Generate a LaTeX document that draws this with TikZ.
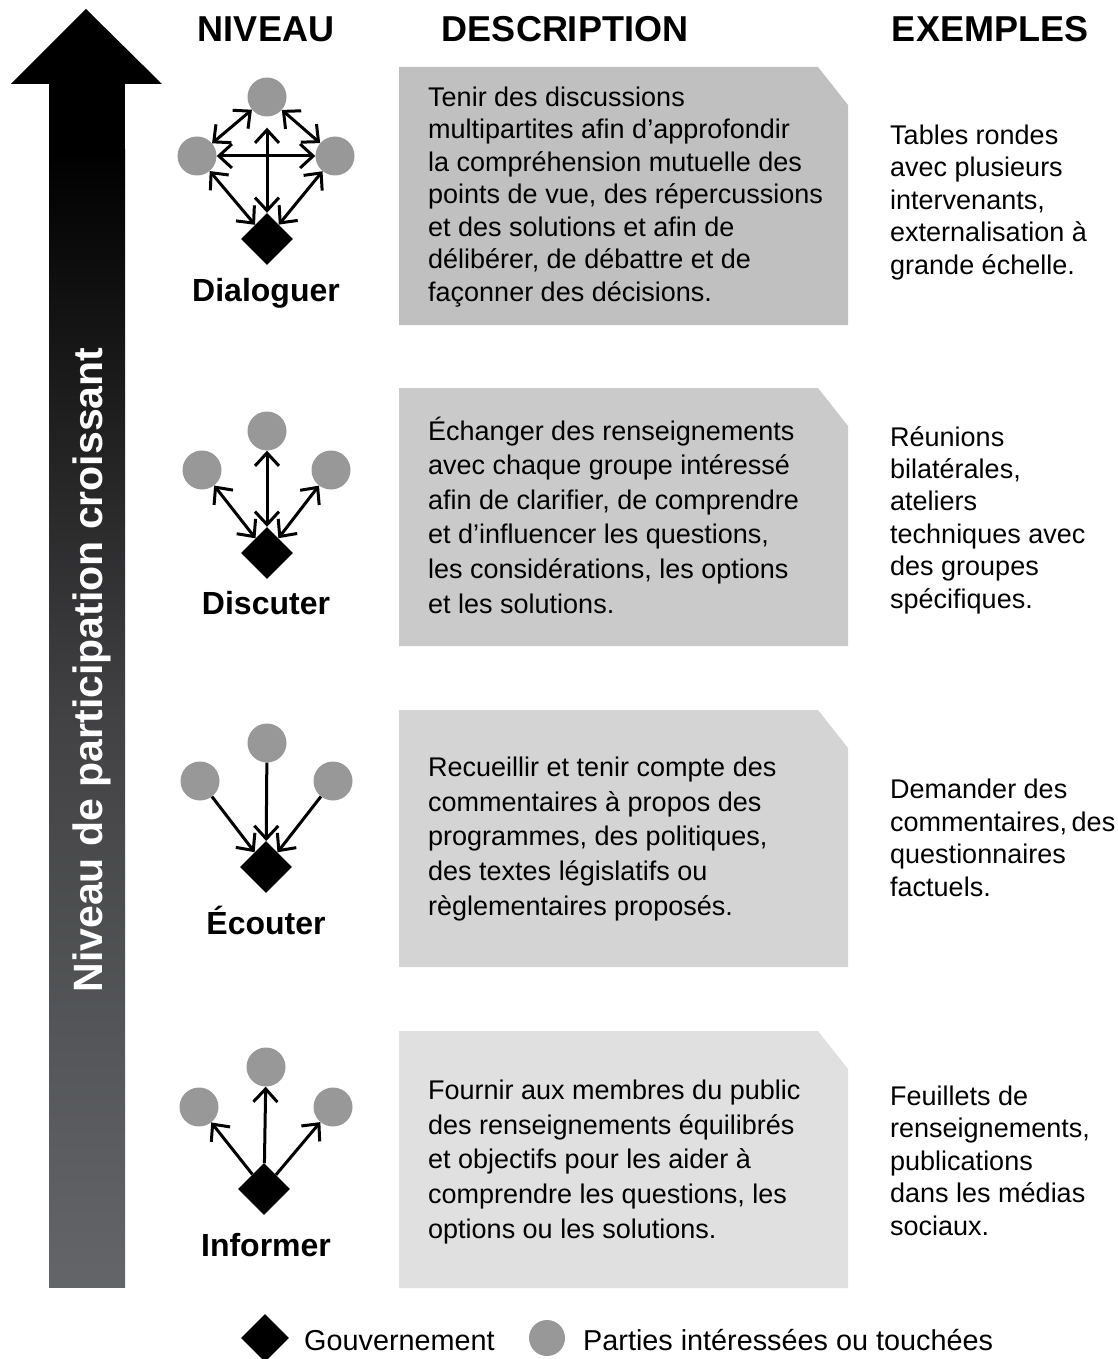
\documentclass[tikz,border=0pt]{standalone}
\usepackage{fontspec}
\setmainfont{Liberation Sans}
\usetikzlibrary{arrows.meta,shapes.geometric}
\definecolor{circ}{RGB}{152,152,152}
\definecolor{boxa}{RGB}{192,192,192}
\definecolor{boxb}{RGB}{202,202,202}
\definecolor{boxc}{RGB}{212,212,212}
\definecolor{boxd}{RGB}{224,224,224}
\definecolor{arrmid}{RGB}{66,66,68}
\definecolor{arrbot}{RGB}{100,101,105}
\begin{document}
\begin{tikzpicture}[x=1pt,y=-1pt,
  party/.style={circle,fill=circ,minimum size=39pt,inner sep=0pt},
  gov/.style={diamond,fill=black,minimum width=52pt,minimum height=52pt,inner sep=0pt},
  link/.style={line width=3pt},
  >={Straight Barb[length=13pt,width=24pt]},
  header/.style={font=\fontsize{36}{40}\selectfont\bfseries,anchor=base,inner sep=0pt},
  level/.style={font=\fontsize{32}{36}\selectfont\bfseries,anchor=base,inner sep=0pt},
  desc/.style={anchor=base west,align=left,inner sep=0pt,font=\fontsize{27}{34.6}\selectfont},
  ex/.style={anchor=base west,align=left,inner sep=0pt,font=\fontsize{27}{32.4}\selectfont},
  legend/.style={anchor=base west,inner sep=0pt,font=\fontsize{28.8}{32}\selectfont}]
\useasboundingbox (0,0) rectangle (1117,1359);

% big arrow
\fill[black] (86,9) -- (162,84) -- (11,84) -- cycle;
\fill[black] (49,83) rectangle (125,152);
\shade[top color=black, bottom color=arrbot, middle color=arrmid] (49,150) rectangle (125,1287);
\node[rotate=90,anchor=base,inner sep=0pt,text=white,font=\fontsize{41}{44}\selectfont\bfseries] (axis) at (102,670) {Niveau de participation croissant};

% headers
\node[header] (hniv) at (266,42) {NIVEAU};
\node[header] (hdesc) at (565,42) {DESCRIPTION};
\node[header] (hex) at (990,42) {EXEMPLES};

% boxes
\fill[boxa] (399,67) -- (818,67) -- (848,105) -- (848,325) -- (399,325) -- cycle;
\fill[boxb] (399,388) -- (818,388) -- (848,426) -- (848,646) -- (399,646) -- cycle;
\fill[boxc] (399,710) -- (818,710) -- (848,748) -- (848,967) -- (399,967) -- cycle;
\fill[boxd] (399,1031) -- (818,1031) -- (848,1069) -- (848,1288) -- (399,1288) -- cycle;

% descriptions (anchor at baseline of last line)
\node[desc,font=\fontsize{27}{32.5}\selectfont] (d1) at (428,301) {Tenir des discussions\\multipartites afin d’approfondir\\la compréhension mutuelle des\\points de vue, des répercussions\\et des solutions et afin de\\délibérer, de débattre et de\\façonner des décisions.};
\node[desc] (d2) at (428,613) {Échanger des renseignements\\avec chaque groupe intéressé\\afin de clarifier, de comprendre\\et d’influencer les questions,\\les considérations, les options\\et les solutions.};
\node[desc] (d3) at (428,915) {Recueillir et tenir compte des\\commentaires à propos des\\programmes, des politiques,\\des textes législatifs ou\\règlementaires proposés.};
\node[desc] (d4) at (428,1238) {Fournir aux membres du public\\des renseignements équilibrés\\et objectifs pour les aider à\\comprendre les questions, les\\options ou les solutions.};

% examples
\node[ex] (e1) at (890,274) {Tables rondes\\avec plusieurs\\intervenants,\\externalisation à\\grande échelle.};
\node[ex] (e2) at (890,608) {Réunions\\bilatérales,\\ateliers\\techniques avec\\des groupes\\spécifiques.};
\node[ex] (e3) at (890,896) {Demander des\\commentaires,\,des\\questionnaires\\factuels.};
\node[ex] (e4) at (890,1235) {Feuillets de\\renseignements,\\publications\\dans les médias\\sociaux.};

% Dialoguer
\node[party] (at) at (267,97) {};
\node[party] (al) at (197,156) {};
\node[party] (ar) at (335,156) {};
\node[gov] (ad) at (267,239) {};
\draw[link,<->] (at) -- (al);
\draw[link,<->] (at) -- (ar);
\draw[link,<->] (al) -- (ar);
\draw[link,<->,shorten <=11pt] (at) -- (ad);
\draw[link,<->] (al) -- (ad);
\draw[link,<->] (ar) -- (ad);
\node[level] (la) at (266,301) {Dialoguer};

% Discuter
\node[party] (bt) at (267,431) {};
\node[party] (bl) at (202,470) {};
\node[party] (br) at (331,470) {};
\node[gov] (bd) at (267,553) {};
\draw[link,<->] (bt) -- (bd);
\draw[link,<->] (bl) -- (bd);
\draw[link,<->] (br) -- (bd);
\node[level] (lb) at (266,614) {Discuter};

% Ecouter
\node[party] (ct) at (267,743) {};
\node[party] (cl) at (200,781) {};
\node[party] (cr) at (333,781) {};
\node[gov] (cd) at (266,867) {};
\draw[link,->] (ct) -- (cd);
\draw[link,->] (cl) -- (cd);
\draw[link,->] (cr) -- (cd);
\node[level] (lc) at (266,934) {Écouter};

% Informer
\node[party] (dt) at (266,1067) {};
\node[party] (dl) at (199,1107) {};
\node[party] (dr) at (333,1107) {};
\node[gov] (dd) at (264,1189) {};
\draw[link,->] (dd) -- (dt);
\draw[link,->] (dd) -- (dl);
\draw[link,->] (dd) -- (dr);
\node[level] (ld) at (266,1256) {Informer};

% legend
\node[gov,minimum width=48pt,minimum height=48pt] (lgov) at (265,1338) {};
\node[legend] (tgov) at (304,1350) {Gouvernement};
\node[party,minimum size=36pt] (lpar) at (547,1338) {};
\node[legend] (tpar) at (583,1350) {Parties intéressées ou touchées};
\end{tikzpicture}
\end{document}
